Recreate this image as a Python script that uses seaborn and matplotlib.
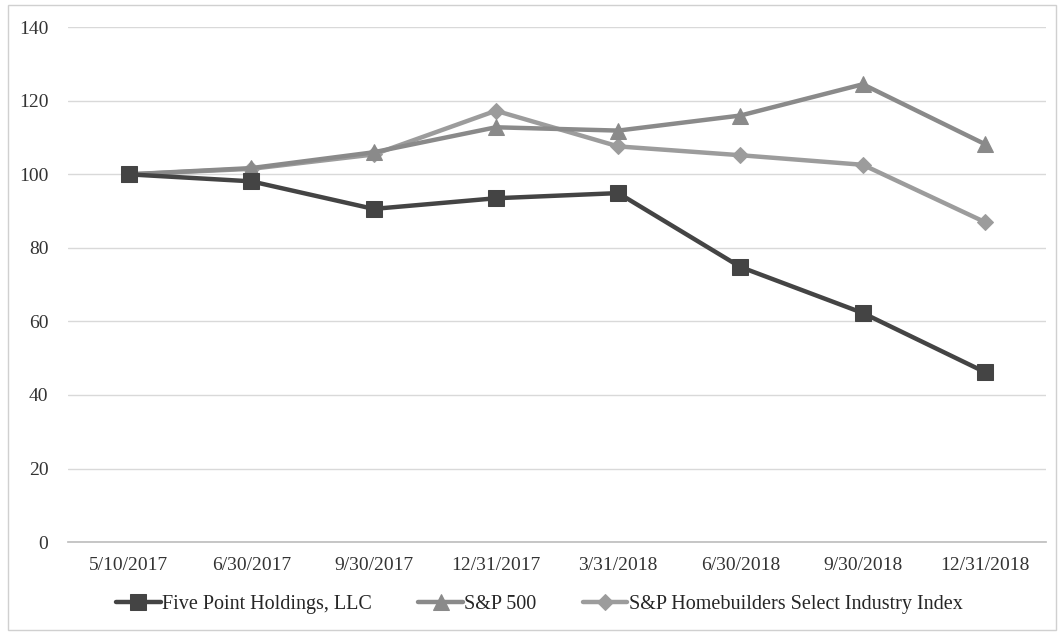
import matplotlib
matplotlib.use("Agg")
import matplotlib.pyplot as plt
from matplotlib.patches import Rectangle
import seaborn as sns
import pandas as pd

dates = ["5/10/2017", "6/30/2017", "9/30/2017", "12/31/2017",
         "3/31/2018", "6/30/2018", "9/30/2018", "12/31/2018"]
five_point = [100, 98.1, 90.6, 93.5, 94.9, 74.8, 62.3, 46.2]
sp500 = [100, 101.7, 106.0, 112.8, 111.9, 116.0, 124.5, 108.2]
homebuilders = [100, 101.5, 105.4, 117.3, 107.6, 105.2, 102.6, 87.0]

series = {
    "Five Point Holdings, LLC": (five_point, "#444444", "s", 11.5),
    "S&P 500": (sp500, "#8a8a8a", "^", 11.5),
    "S&P Homebuilders Select Industry Index": (homebuilders, "#9c9c9c", "D", 8.5),
}

sns.set_theme(style="white")
plt.rcParams["font.family"] = ["Liberation Serif", "DejaVu Serif"]

fig = plt.figure(figsize=(10.6, 6.34), dpi=100)
ax = fig.add_axes([0.064, 0.145, 0.923, 0.812])

# draw lighter lines first so the dark one sits on top at the start
order = ["S&P Homebuilders Select Industry Index", "S&P 500", "Five Point Holdings, LLC"]
for name in order:
    vals, color, mk, ms = series[name]
    df = pd.DataFrame({"x": range(len(dates)), "y": vals})
    sns.lineplot(data=df, x="x", y="y", ax=ax, color=color, linewidth=3.2,
                 marker=mk, markersize=ms, markeredgecolor=color, label=name,
                 zorder=3 if name.startswith("Five") else 2)

ax.set_xlim(-0.5, len(dates) - 0.5)
ax.set_ylim(0, 140)
ax.set_yticks(range(0, 141, 20))
ax.set_xticks(range(len(dates)))
ax.set_xticklabels(dates)
ax.set_xlabel("")
ax.set_ylabel("")
ax.grid(axis="y", color="#d9d9d9", linewidth=1)
ax.set_axisbelow(True)
for s in ["top", "right", "left"]:
    ax.spines[s].set_visible(False)
ax.spines["bottom"].set_color("#bfbfbf")
ax.tick_params(axis="both", length=0, labelsize=14, colors="#333333")
ax.tick_params(axis="y", pad=14)
ax.tick_params(axis="x", pad=11)

handles, labels = ax.get_legend_handles_labels()
want = ["Five Point Holdings, LLC", "S&P 500", "S&P Homebuilders Select Industry Index"]
hl = dict(zip(labels, handles))
ax.get_legend().remove()
fig.legend([hl[w] for w in want], want, loc="center", bbox_to_anchor=(0.509, 0.046),
           ncol=3, frameon=False, fontsize=14.5, handlelength=2.2,
           columnspacing=2.3, handletextpad=0.08, labelcolor="#262626")

fig.patches.append(Rectangle((0.008, 0.006), 0.988, 0.986, transform=fig.transFigure,
                             fill=False, edgecolor="#d0d0d0", linewidth=1))

fig.savefig("out.png", dpi=100)
